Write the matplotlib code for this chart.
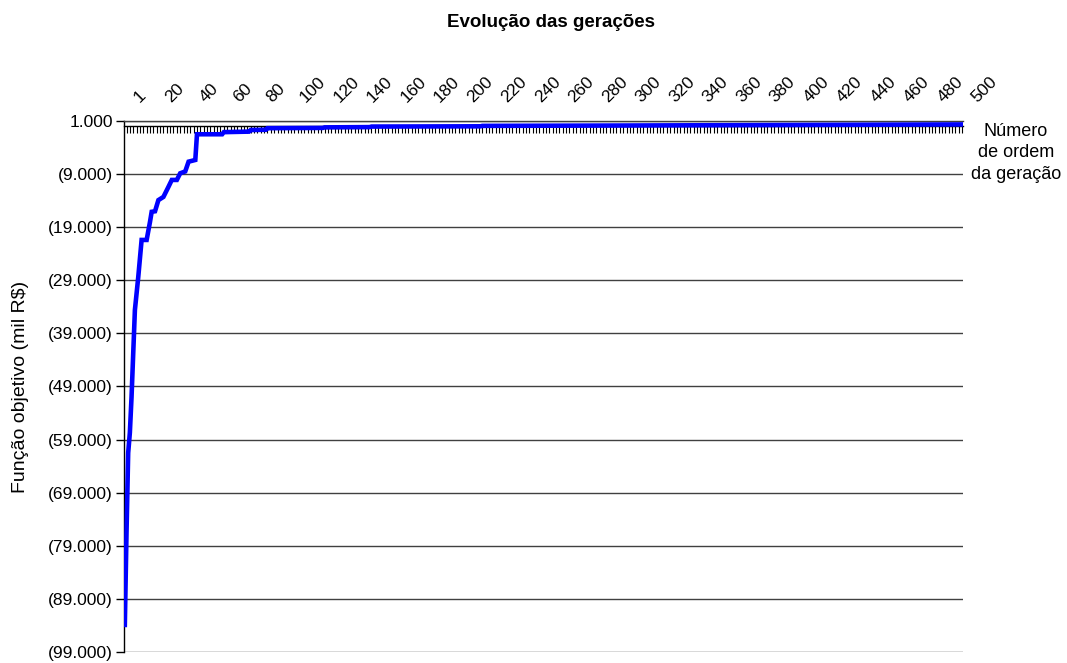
import matplotlib
matplotlib.use("Agg")
import matplotlib.pyplot as plt
import matplotlib.transforms as mtransforms
from matplotlib.ticker import FuncFormatter, MultipleLocator, NullFormatter

plt.rcParams['font.family'] = ['Liberation Sans', 'DejaVu Sans']

# Data: generation number vs best objective value (mil R$)
generations = [1, 2, 3, 4, 5, 7, 9, 11, 14, 16, 17, 19, 21, 24, 27, 29, 32, 34, 37, 39,
               43, 44, 59, 60, 75, 76, 85, 86, 119, 120, 147, 148, 213, 214, 300, 400, 500]
objective = [-93900, -76600, -61500, -57700, -51000, -34600, -28400, -21400, -21400,
             -18000, -16100, -16000, -13900, -13300, -11400, -10100, -10100, -8850,
             -8500, -6660, -6340, -1500, -1500, -1100, -1000, -700, -650, -350, -300,
             -200, -150, -50, 0, 80, 150, 250, 350]

x_tick_values = [1] + list(range(20, 501, 20))
x_tick_labels = [str(v) for v in x_tick_values]
y_ticks = list(range(-99000, 1001, 10000))

title = "Evolução das gerações"
y_label = "Função objetivo (mil R$)"
x_label = "Número\nde ordem\nda geração"

fig = plt.figure(figsize=(10.67, 6.63), dpi=100)
ax = fig.add_axes([0.1162, 0.0166, 0.7863, 0.8009])

ax.plot(generations, objective, color='#0000FF', linewidth=3.3, solid_joinstyle='miter', zorder=3)

ax.set_xlim(0.5, 500.5)
ax.set_ylim(-99000, 1000)

# y axis
ax.set_yticks(y_ticks)
def fmt(v, pos):
    s = f"{abs(int(round(v))):,}".replace(",", ".")
    return f"({s})" if v < 0 else s
ax.yaxis.set_major_formatter(FuncFormatter(fmt))
ax.tick_params(axis='y', direction='out', length=6, width=1, labelsize=12.5, pad=2, colors='black')
ax.yaxis.grid(True, color='#404040', linewidth=1.0)
ax.set_axisbelow(True)

# category axis crossing at value 0, tick marks hanging below it
ax.spines['bottom'].set_position(('data', 0))
ax.spines['bottom'].set_color('black')
ax.spines['bottom'].set_linewidth(1.0)
ax.set_xticks([])
ax.xaxis.set_minor_locator(MultipleLocator(2))
ax.xaxis.set_minor_formatter(NullFormatter())
ax.tick_params(axis='x', which='minor', direction='out', length=5, width=0.8, colors='black',
               bottom=True, top=False)

# category labels placed high (above plot area), rotated 45°
offset = mtransforms.ScaledTranslation(17 / 100, 16 / 100, fig.dpi_scale_trans)
trans = mtransforms.blended_transform_factory(ax.transData, ax.transAxes) + offset
for v, lab in zip(x_tick_values, x_tick_labels):
    ax.text(v, 1.0, lab, transform=trans, rotation=45, rotation_mode='anchor',
            ha='left', va='bottom', fontsize=12.5, clip_on=False)

ax.spines['right'].set_visible(False)
ax.spines['top'].set_color('#404040')
ax.spines['top'].set_linewidth(1.0)
ax.spines['left'].set_color('black')
ax.spines['left'].set_linewidth(1.0)

ax.set_ylabel(y_label, fontsize=14)
ax.yaxis.set_label_coords(-0.113, 0.5)
fig.text(0.952, 0.815, x_label, ha='center', va='top', fontsize=13, linespacing=1.37)
fig.text(0.516, 0.966, title, ha='center', va='center', fontsize=13.5, fontweight='bold')

fig.savefig('out.png', dpi=100)
